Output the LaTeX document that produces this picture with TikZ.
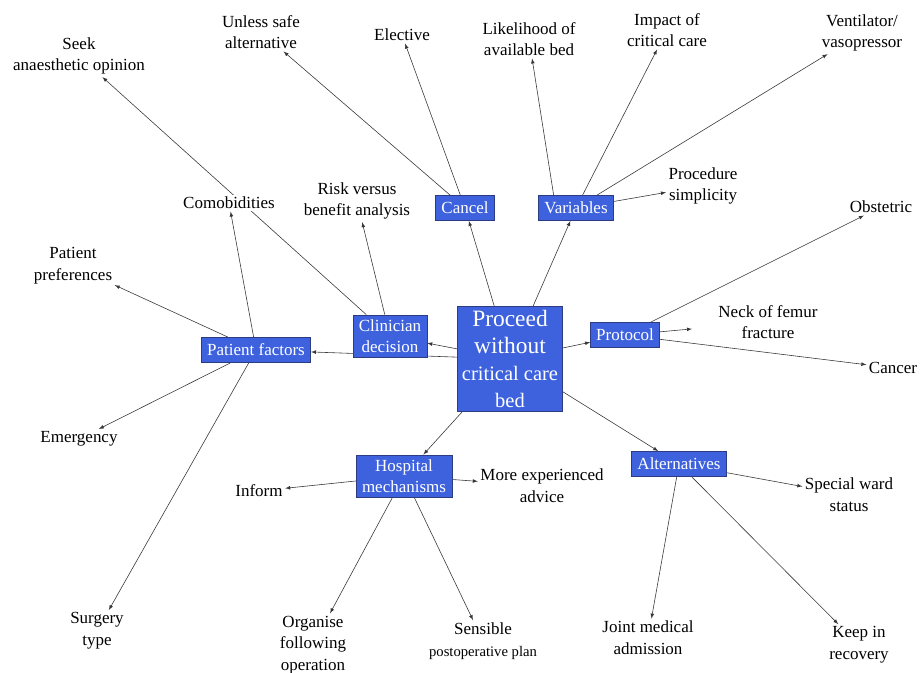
\documentclass[tikz,border=0pt]{standalone}
\usepackage{fontspec}
\setmainfont{Liberation Serif}
\usetikzlibrary{arrows, backgrounds}
\definecolor{boxblue}{RGB}{62,98,222}
\definecolor{boxline}{RGB}{45,60,130}
\definecolor{edgegrey}{RGB}{55,55,55}

\begin{document}
\begin{tikzpicture}[x=0.03cm, y=-0.03cm, >=latex,
				   box/.style={rectangle, draw=boxline, fill=boxblue, text=white, align=center, inner xsep=5pt, inner ysep=4pt, minimum height=0.76cm, font=\fontsize{14.5}{18}\selectfont},
				   lbl/.style={align=center, inner sep=2pt, font=\fontsize{14.5}{18.5}\selectfont},
				   link/.style={->, draw=edgegrey, line width=0.5pt}]
\useasboundingbox (0,0) rectangle (921,673);

\node[box, minimum width=3.15cm, minimum height=3.15cm, inner sep=2pt, font=\fontsize{20}{23}\selectfont] (proceed) at (510,359)
	{Proceed\\ without\\ {\fontsize{17.5}{21}\selectfont critical care}\\ {\fontsize{17.5}{19}\selectfont bed}};
\node[box] (cancel) at (465,208) {Cancel};
\node[box] (variables) at (576,208) {Variables};
\node[box] (clinician) at (390,336) {Clinician\\ decision};
\node[box] (patient) at (256,350) {Patient factors};
\node[box] (protocol) at (625,335) {Protocol};
\node[box] (hospital) at (404,476) {Hospital\\ mechanisms};
\node[box] (alternatives) at (679,464) {Alternatives};

\node[lbl] (seek) at (79,56) {Seek\\ anaesthetic opinion};
\node[lbl] (unless) at (261,32) {Unless safe\\ alternative};
\node[lbl] (elective) at (402,35) {Elective};
\node[lbl] (likelihood) at (529,39) {Likelihood of\\ available bed};
\node[lbl] (impact) at (667,30) {Impact of\\ critical care};
\node[lbl] (ventilator) at (862,33) {Ventilator/\\ vasopressor};
\node[lbl] (procedure) at (703,186) {Procedure\\ simplicity};
\node[lbl] (obstetric) at (881,207) {Obstetric};
\node[lbl] (neck) at (768,322) {Neck of femur\\ fracture};
\node[lbl] (cancer) at (893,368) {Cancer};
\node[lbl] (risk) at (357,201) {Risk versus\\ benefit analysis};
\node[lbl, fill=white] (comobid) at (229,203) {Comobidities};
\node[lbl] (preferences) at (73,266) {Patient\\ preferences};
\node[lbl] (emergency) at (79,439) {Emergency};
\node[lbl] (inform) at (259,491) {Inform};
\node[lbl] (advice) at (542,486) {More experienced\\ advice};
\node[lbl] (special) at (849,495) {Special ward\\ status};
\node[lbl] (surgery) at (97,631) {Surgery\\ type};
\node[lbl] (organise) at (313,645) {Organise\\ following\\ operation};
\node[lbl] (sensible) at (483,641) {Sensible\\ {\fontsize{12.5}{15}\selectfont postoperative plan}};
\node[lbl] (joint) at (648,638) {Joint medical\\ admission};
\node[lbl] (keep) at (859,645) {Keep in\\ recovery};

\begin{scope}[on background layer]
	\draw[link] (proceed) -- (cancel);
	\draw[link] (proceed) -- (variables);
	\draw[link] (proceed) -- (clinician);
	\draw[link] (proceed) -- (patient);
	\draw[link] (proceed) -- (protocol);
	\draw[link] (proceed) -- (hospital);
	\draw[link] (proceed) -- (alternatives);

	\draw[link] (cancel) -- (unless);
	\draw[link] (cancel) -- (elective);

	\draw[link] (variables.150) -- (likelihood);
	\draw[link] (variables) -- (impact);
	\draw[link] (variables) -- (ventilator);
	\draw[link] (variables) -- (procedure);

	\draw[link] (clinician) -- (risk);
	\draw[link] (clinician) -- (seek);

	\draw[link] (patient) -- (comobid);
	\draw[link] (patient) -- (preferences);
	\draw[link] (patient) -- (emergency);
	\draw[link] (patient) -- (surgery);

	\draw[link] (protocol) -- (obstetric);
	\draw[link, shorten >=0.72cm] (protocol) -- (neck);
	\draw[link] (protocol) -- (cancer);

	\draw[link] (hospital) -- (inform);
	\draw[link] (hospital) -- (advice);
	\draw[link] (hospital) -- (organise);
	\draw[link] (hospital) -- (sensible);

	\draw[link] (alternatives) -- (special);
	\draw[link] (alternatives) -- (joint);
	\draw[link] (alternatives) -- (keep);
\end{scope}
\end{tikzpicture}
\end{document}
